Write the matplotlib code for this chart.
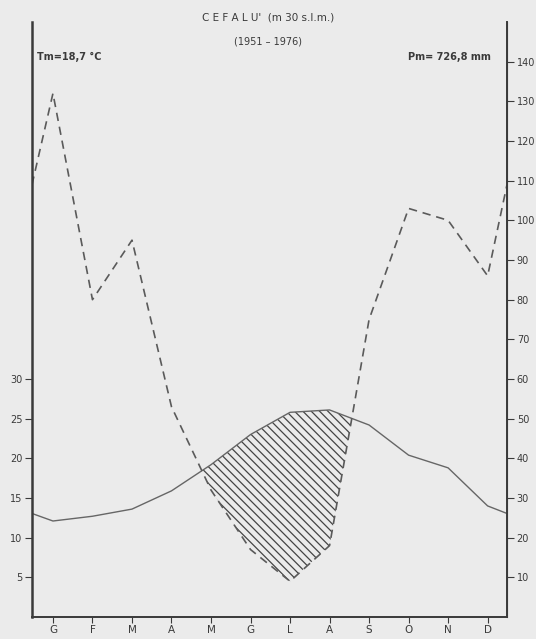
import matplotlib
matplotlib.use("Agg")
import matplotlib.pyplot as plt
import numpy as np

months = ["G", "F", "M", "A", "M", "G", "L", "A", "S", "O", "N", "D"]
temp = [12.1, 12.7, 13.6, 15.9, 19.2, 23.0, 25.8, 26.1, 24.2, 20.4, 18.8, 14.0]
precip = [132, 80, 95, 53, 32, 17, 9, 18, 75, 103, 100, 86]
t_ticks = [5, 10, 15, 20, 25, 30]
p_ticks = [10, 20, 30, 40, 50, 60, 70, 80, 90, 100, 110, 120, 130, 140]

plt.rcParams['font.family'] = ['Liberation Sans Narrow', 'DejaVu Sans']
plt.rcParams['hatch.linewidth'] = 0.9
bg = "#ebebeb"
ink = "#3a3a3a"

fig = plt.figure(figsize=(5.36, 6.39), dpi=100, facecolor=bg)
ax = fig.add_axes([32/536, 22/639, 475/536, 595/639])
ax.set_facecolor(bg)

x = np.arange(12)
xl, xr = -0.53, 11.49
t_edge = (temp[0] + temp[-1]) / 2
p_edge = (precip[0] + precip[-1]) / 2
xs = np.concatenate([[xl], x, [xr]])
ts = np.concatenate([[t_edge], temp, [t_edge]])
ps = np.concatenate([[p_edge], precip, [p_edge]]) / 2.0  # P on T scale (P = 2T)

ax.plot(xs, ts, color="#666666", lw=1.0)
ax.plot(xs, ps, color="#5a5a5a", lw=1.2, dashes=(5, 3.5))
ax.fill_between(xs, ps, ts, where=ps < ts, interpolate=True,
                facecolor="none", edgecolor="#444444", hatch="\\\\\\\\", lw=0)

ax.set_xlim(xl, xr)
ax.set_ylim(0, 75)
ax.set_xticks(x)
ax.set_xticklabels(months)
ax.set_yticks(t_ticks)
ax.set_yticklabels([str(v) for v in t_ticks])

ax2 = ax.twinx()
ax2.set_ylim(0, 150)
ax2.set_yticks(p_ticks)
ax2.set_yticklabels([str(v) for v in p_ticks])

for a in (ax, ax2):
    a.spines['top'].set_visible(False)
    for s in a.spines.values():
        s.set_color(ink)
ax.spines['left'].set_linewidth(1.8)
ax.spines['bottom'].set_linewidth(1.4)
ax2.spines['right'].set_linewidth(1.4)
ax2.spines['left'].set_visible(False)
ax2.spines['bottom'].set_visible(False)

ax.tick_params(axis='x', direction='out', length=4, width=0.8, colors=ink,
               labelsize=7.5, pad=1.5)
ax.tick_params(axis='y', direction='out', length=5, width=0.8, colors=ink,
               labelsize=7, pad=2)
ax2.tick_params(axis='y', direction='out', length=5, width=0.8, colors=ink,
                labelsize=7, pad=2)

fig.text(0.5, 1 - 18/639, "C E F A L U'  (m 30 s.l.m.)", ha='center', va='center',
         fontsize=7.5, color=ink)
fig.text(0.5, 1 - 42/639, "(1951 – 1976)", ha='center', va='center',
         fontsize=7, color=ink)
fig.text(37/536, 1 - 57/639, "Tm=18,7 °C", ha='left', va='center',
         fontsize=7, color=ink, fontweight='bold')
fig.text(491/536, 1 - 57/639, "Pm= 726,8 mm", ha='right', va='center',
         fontsize=7, color=ink, fontweight='bold')

fig.savefig("out.png", dpi=100, facecolor=bg)
